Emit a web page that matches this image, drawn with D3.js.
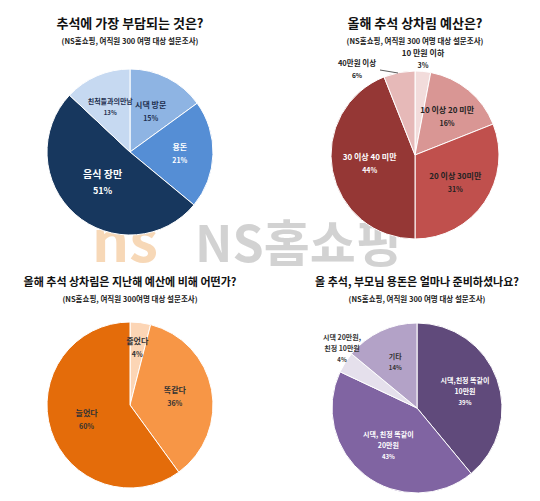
<!DOCTYPE html><html><head><meta charset="utf-8"><script src="https://cdn.jsdelivr.net/npm/d3@7"></script>
<style>body{margin:0;background:#fff}text{font-family:"Noto Sans CJK KR",sans-serif;font-weight:bold}</style></head><body>
<svg id="c" width="540" height="501"></svg>
<script>
const titles=["추석에 가장 부담되는 것은?","올해 추석 상차림 예산은?","올해 추석 상차림은 지난해 예산에 비해 어떤가?","올 추석, 부모님 용돈은 얼마나 준비하셨나요?"];
const subtitles=["(NS홈쇼핑, 여직원 300 여명 대상 설문조사)","(NS홈쇼핑, 여직원 300 여명 대상 설문조사)","(NS홈쇼핑, 여직원 300여명 대상 설문조사)","(NS홈쇼핑, 여직원 300 여명 대상 설문조사)"];
const cats1=["시댁 방문","용돈","음식 장만","친척들과의만남"], vals1=[15,21,51,13];
const cats2=["10 만원 이하","10 이상 20 미만","20 이상 30미만","30 이상 40 미만","40만원 이상"], vals2=[3,16,31,44,6];
const cats3=["줄었다","똑같다","늘었다"], vals3=[4,36,60];
const cats4=["시댁,친정 똑같이|10만원","시댁, 친정 똑같이|20만원","시댁 20만원,|친정 10만원","기타"], vals4=[39,43,4,14];
const charts=[
 {c:cats1,v:vals1,col:["#8eb4e3","#558ed5","#17375e","#c6d9f1"],tc:["#1f3050","#fff","#fff","#1f3050"],cx:130,cy:152,r:83,ty:28,lr:[0.55,0.6,0.5,0.6],fs:[8,8,10,7]},
 {c:cats2,v:vals2,col:["#f2dcdb","#d99694","#c0504d","#953735","#e6b9b8"],tc:["#222","#222","#222","#fff","#222"],cx:415,cy:155,r:84,ty:28,lr:[1.15,0.6,0.58,0.55,1.2],fs:[8,8,8,8,7.5]},
 {c:cats3,v:vals3,col:["#fcd5b5","#f79646","#e46c0a"],tc:["#333","#333","#333"],cx:130,cy:405,r:83,ty:286,lr:[0.7,0.55,0.55],fs:[8,8,8]},
 {c:cats4,v:vals4,col:["#604a7b","#8064a2","#e5e0ec","#b3a2c7"],tc:["#fff","#fff","#333","#333"],cx:417,cy:408,r:85,ty:286,lr:[0.6,0.55,1.35,0.6],fs:[7,7,7,7]}
];
const svg=d3.select("#c");
const wm=svg.append("g");
wm.append("text").attr("x",92).attr("y",262).attr("font-size",58).attr("fill","#f5c89a").attr("opacity",0.7).text("ns");
wm.append("text").attr("x",195).attr("y",262).attr("font-size",50).attr("fill","#c8c8c8").attr("opacity",0.8).text("NS홈쇼핑");
charts.forEach((ch,i)=>{
 const g=svg.append("g").attr("transform",`translate(${ch.cx},${ch.cy})`);
 const arcs=d3.pie().sort(null)(ch.v);
 const arc=d3.arc().innerRadius(0).outerRadius(ch.r);
 g.selectAll("path").data(arcs).join("path").attr("d",arc).attr("fill",(d,j)=>ch.col[j]).attr("stroke","#fff").attr("stroke-width",1);
 arcs.forEach((d,j)=>{
  const a=(d.startAngle+d.endAngle)/2, rr=ch.r*ch.lr[j];
  let x=Math.sin(a)*rr, y=-Math.cos(a)*rr;
  if(i==1&&j==0){x=8;y=-ch.r-12;} if(i==1&&j==4){x=-58;y=-ch.r-2;}
  if(i==3&&j==2){x=-75;y=-60;}
  const lines=ch.c[j].split("|").concat([ch.v[j]+"%"]);
  const t=g.append("text").attr("text-anchor","middle").attr("fill",ch.tc[j]).attr("font-size",ch.fs[j]);
  lines.forEach((l,k)=>t.append("tspan").attr("x",x).attr("y",y+(k-(lines.length-1)/2)*ch.fs[j]*1.6+3).attr("font-size",k==lines.length-1?ch.fs[j]-1:ch.fs[j]).text(l));
 });
 svg.append("text").attr("x",ch.cx).attr("y",ch.ty).attr("text-anchor","middle").attr("font-size",i<2?13:11).attr("fill","#111").text(titles[i]);
 svg.append("text").attr("x",ch.cx).attr("y",ch.ty+16).attr("text-anchor","middle").attr("font-size",7.5).attr("fill","#222").text(subtitles[i]);
});
svg.append("line").attr("x1",380).attr("y1",70).attr("x2",398).attr("y2",73).attr("stroke","#333").attr("stroke-width",0.8);
</script></body></html>
